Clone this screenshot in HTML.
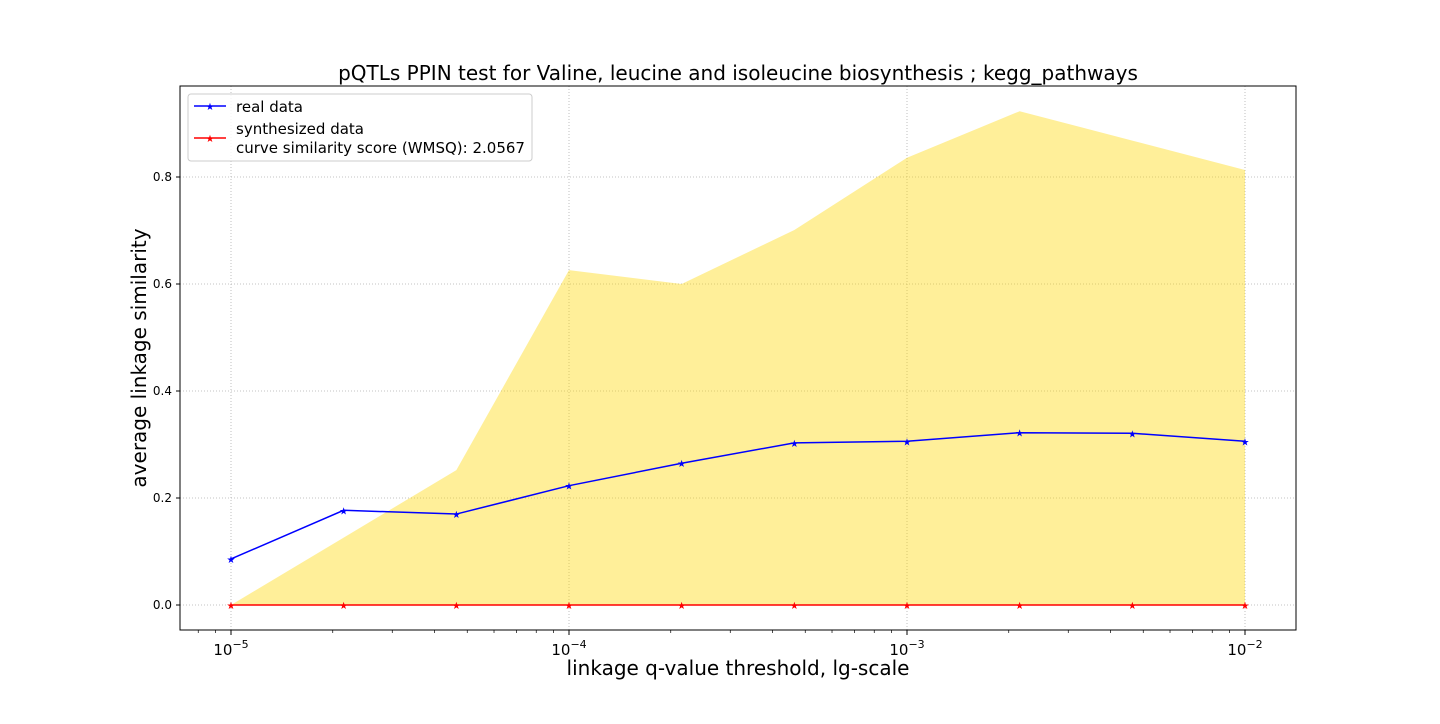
<!DOCTYPE html>
<html><head><meta charset="utf-8"><style>
body{margin:0;background:#fff;font-family:"DejaVu Sans","Liberation Sans",sans-serif}
svg text{font-family:"DejaVu Sans","Liberation Sans",sans-serif}
</style></head><body>
<svg id="chart" width="1440" height="720" xmlns="http://www.w3.org/2000/svg">
<rect width="1440" height="720" fill="#fff"/>
<g id="grid"></g>
<g id="marks"></g>
<rect x="180" y="86" width="1116" height="544" fill="none" stroke="#000" stroke-width="1"/>
<g id="axes"></g>
<text x="738" y="80" font-size="20" text-anchor="middle">pQTLs PPIN test for Valine, leucine and isoleucine biosynthesis ; kegg_pathways</text>
<text x="738" y="675" font-size="20" text-anchor="middle">linkage q-value threshold, lg-scale</text>
<text transform="translate(146,358) rotate(-90)" font-size="20" text-anchor="middle">average linkage similarity</text>
<g>
<rect x="188" y="94" width="344" height="67" rx="3" fill="#fff" fill-opacity="0.85" stroke="#ccc"/>
<g>
<line x1="194" y1="106" x2="226" y2="106" stroke="blue" stroke-width="1.5"/>
<text x="210" y="110" font-size="10" fill="blue" text-anchor="middle">★</text>
<text x="236" y="112" font-size="15">real data</text></g>
<g>
<line x1="194" y1="138" x2="226" y2="138" stroke="red" stroke-width="1.5"/>
<text x="210" y="142" font-size="10" fill="red" text-anchor="middle">★</text>
<text x="236" y="134" font-size="15">synthesized data</text>
<text x="236" y="153" font-size="15">curve similarity score (WMSQ): 2.0567</text></g>
</g>
</svg>
<script>
const exponents=[-5,-4.6667,-4.3333,-4,-3.6667,-3.3333,-3,-2.6667,-2.3333,-2];
const realData=[0.086,0.177,0.170,0.223,0.265,0.303,0.306,0.322,0.321,0.306];
const synthData=[0,0,0,0,0,0,0,0,0,0];
const bandUpper=[0,0.126,0.252,0.626,0.600,0.701,0.836,0.923,0.868,0.813];
const bandLower=[0,0,0,0,0,0,0,0,0,0];
const yTicks=[0,0.2,0.4,0.6,0.8];
const xTicks=[-5,-4,-3,-2];
const NS="http://www.w3.org/2000/svg";
const X=e=>231+(e+5)*338;
const Y=v=>605-v*535;
function mk(tag,attrs,parent){const el=document.createElementNS(NS,tag);for(const k in attrs)el.setAttribute(k,attrs[k]);parent.appendChild(el);return el;}
const grid=document.getElementById('grid'),marks=document.getElementById('marks'),axes=document.getElementById('axes');
yTicks.forEach(v=>{
 const l=mk('line',{x1:180,x2:1296,y1:Y(v),y2:Y(v),stroke:'#b0b0b0','stroke-dasharray':'1,2','stroke-width':0.8},grid);
 
 mk('line',{x1:176,x2:180,y1:Y(v),y2:Y(v),stroke:'#000'},axes);
 const t=mk('text',{x:172,y:Y(v)+4,'font-size':12,'text-anchor':'end'},axes);t.textContent=v.toFixed(1);
 
});
xTicks.forEach(e=>{
 const l=mk('line',{x1:X(e),x2:X(e),y1:86,y2:630,stroke:'#b0b0b0','stroke-dasharray':'1,2','stroke-width':0.8},grid);
 
 mk('line',{x1:X(e),x2:X(e),y1:630,y2:635,stroke:'#000'},axes);
 const t=mk('text',{x:X(e),y:655,'font-size':15,'text-anchor':'middle'},axes);
 t.innerHTML='10<tspan dy="-7" font-size="11">'+'\u2212'+(-e)+'</tspan>';
 
});
for(let d=-6;d<=-2;d++)for(let m=2;m<=9;m++){const e=d+Math.log10(m);const x=X(e);if(x>180&&x<1296)mk('line',{x1:x,x2:x,y1:630,y2:633,stroke:'#000','stroke-width':0.7},axes);}
let pts=exponents.map((e,i)=>X(e)+','+Y(bandUpper[i])).concat(exponents.map((e,i)=>X(e)+','+Y(bandLower[i])).reverse());
const band=mk('polygon',{points:pts.join(' '),fill:'#ffd700','fill-opacity':0.4},marks);

function series(vals,color,name){
 const p=mk('polyline',{points:exponents.map((e,i)=>X(e)+','+Y(vals[i])).join(' '),fill:'none',stroke:color,'stroke-width':1.5},marks);
 
 exponents.forEach((e,i)=>{const t=mk('text',{x:X(e),y:Y(vals[i])+4,'font-size':10,fill:color,'text-anchor':'middle'},marks);t.textContent='★';
 });
}
series(realData,'blue','real-data');
series(synthData,'red','synthesized-data');
</script>
</body></html>
